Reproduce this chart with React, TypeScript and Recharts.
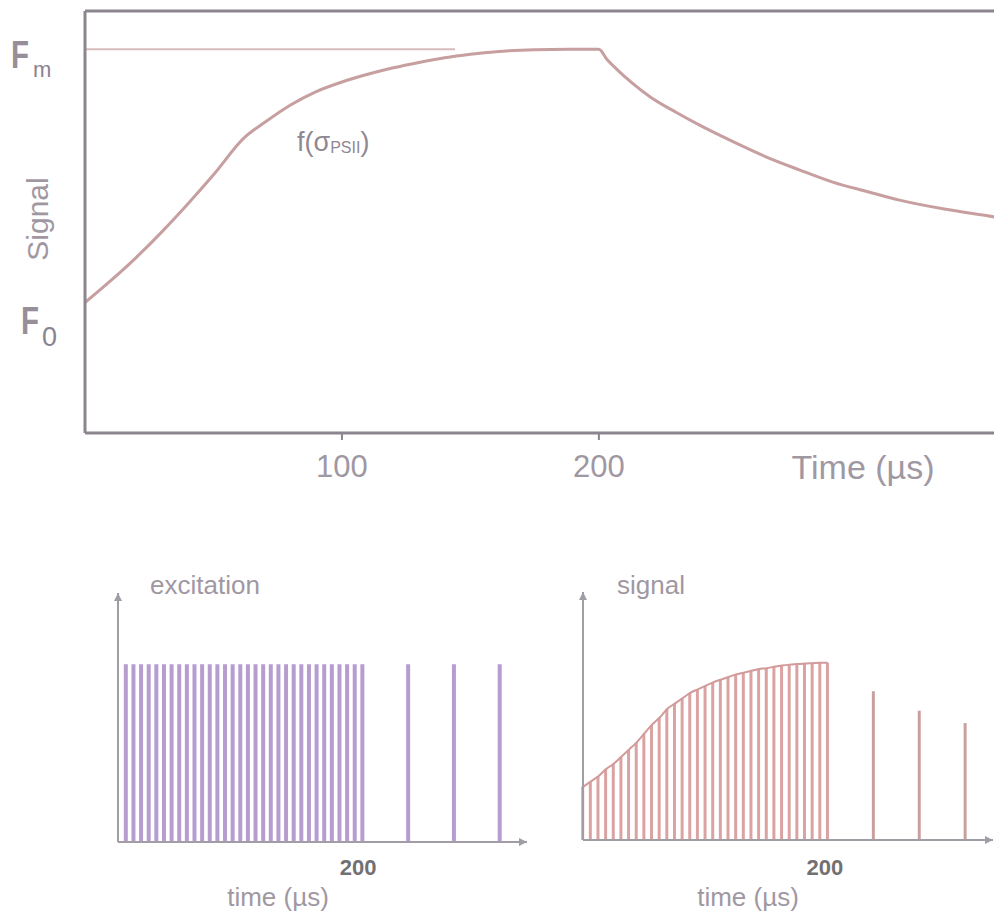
import { LineChart, Line, ComposedChart, Bar, XAxis, YAxis, ReferenceLine } from "recharts";

const FONT = "'Liberation Sans', Arial, sans-serif";

// fluorescence trace, time in µs, signal relative to Fm = 1
const traceTime = [
  0, 10, 20, 30, 40, 50, 62, 70, 80, 90, 100, 110, 120, 130, 140, 150, 160, 175, 188, 200,
  203, 207, 213, 220, 230, 239, 252, 265, 278, 291, 304, 317, 335, 355, 360,
];
const traceSignal = [
  0.34, 0.397, 0.458, 0.525, 0.597, 0.673, 0.77, 0.81, 0.855, 0.89, 0.915, 0.935, 0.952, 0.966, 0.978, 0.987, 0.994, 0.999, 1.0, 1.0,
  0.975, 0.948, 0.912, 0.876, 0.836, 0.803, 0.76, 0.72, 0.686, 0.654, 0.63, 0.607, 0.583, 0.562, 0.556,
];
const F0 = 0.34;
const FM = 1.0;
const fmLineEnd = 144;
const timeTicks = [100, 200];

// flash train (µs) and the three probe flashes after it
const flashTime = [
  6.25, 12.5, 18.75, 25, 31.25, 37.5, 43.75, 50, 56.25, 62.5, 68.75, 75, 81.25, 87.5, 93.75, 100,
  106.25, 112.5, 118.75, 125, 131.25, 137.5, 143.75, 150, 156.25, 162.5, 168.75, 175, 181.25, 187.5, 193.75, 200,
];
const probeTime = [237.5, 275, 312.5];
const excitationPulse = 1;

// measured signal at t = 0 and at each flash
const signalTime = [0, ...flashTime];
const flashSignal = [
  0.3, 0.33, 0.36, 0.4, 0.43, 0.47, 0.51, 0.55, 0.6, 0.65, 0.69, 0.74, 0.77, 0.8, 0.83, 0.85, 0.87,
  0.89, 0.905, 0.92, 0.935, 0.945, 0.955, 0.965, 0.97, 0.978, 0.985, 0.99, 0.993, 0.996, 0.998, 1.0, 1.0,
];
const probeSignal = [0.84, 0.73, 0.66];

const levelLabels: Record<string, { sub: string; fx: number; fy: number; sx: number; sy: number; ss: number }> = {
  [String(F0)]: { sub: "0", fx: 21, fy: 31, sx: 42, sy: 43, ss: 27 },
  [String(FM)]: { sub: "m", fx: 11, fy: 19, sx: 33, sy: 28, ss: 22 },
};

function LevelTick({ y, payload }: any) {
  const l = levelLabels[String(payload.value)];
  if (!l) return null;
  return (
    <g fill="#8b828f" fontFamily={FONT}>
      <text x={l.fx} y={y + l.fy} fontSize={38} fontWeight={700} textLength={18} lengthAdjust="spacingAndGlyphs" opacity={0.9}>F</text>
      <text x={l.sx} y={y + l.sy} fontSize={l.ss}>{l.sub}</text>
    </g>
  );
}

function Arrow({ id, color }: { id: string; color: string }) {
  return (
    <defs>
      <marker id={id} viewBox="0 0 10 10" refX={10} refY={5} markerWidth={9} markerHeight={8}
        markerUnits="userSpaceOnUse" orient="auto-start-reverse">
        <path d="M0,0 L10,5 L0,10 z" fill={color} />
      </marker>
    </defs>
  );
}

export default function App() {
  const traceData = traceTime.map((t, i) => ({ t, signal: traceSignal[i] }));
  const excitationData = [...flashTime, ...probeTime].map((t) => ({ t, pulse: excitationPulse }));
  const signalData = [
    ...signalTime.map((t, i) => ({ t, sig: flashSignal[i] })),
    ...probeTime.map((t, i) => ({ t, probe: probeSignal[i] })),
  ];

  const axisTop = "#8c848f";
  const axisBottom = "#a19da4";
  const label = "#9f98a3";

  return (
    <div style={{ position: "absolute", left: 0, top: 0, width: 994, height: 916, overflow: "hidden", background: "#fff" }}>
      <div style={{ position: "absolute", left: 0, top: 0 }}>
        <LineChart width={1010} height={520} data={traceData} margin={{ top: 11, right: 0, left: 0, bottom: 0 }}>
          <XAxis dataKey="t" type="number" domain={[0, 360]} ticks={timeTicks} height={87}
            axisLine={{ stroke: axisTop, strokeWidth: 3 }} tickLine={{ stroke: axisTop, strokeWidth: 2 }}
            tickSize={7} tickMargin={15} tick={{ fill: label, fontSize: 31, fontFamily: FONT }} />
          <YAxis type="number" domain={[0, 1.1]} ticks={[F0, FM]} width={85} tickLine={false}
            axisLine={{ stroke: axisTop, strokeWidth: 3 }} tick={<LevelTick />} />
          <ReferenceLine y={1.1} stroke={axisTop} strokeWidth={3} />
          <ReferenceLine segment={[{ x: 0, y: FM }, { x: fmLineEnd, y: FM }]} stroke="#d8bcbd" strokeWidth={2} />
          <Line type="monotone" dataKey="signal" stroke="#c79fa0" strokeWidth={3} dot={false} isAnimationActive={false} />
          <text x={37} y={219} transform="rotate(-90 37 219)" textAnchor="middle" dominantBaseline="central"
            fontSize={30} fill={label} fontFamily={FONT}>Signal</text>
          <text x={297} y={151} fontSize={27} fill="#8f8892" fontFamily={FONT}>
            f(σ<tspan fontSize={16} dy={2}>PSII</tspan><tspan dy={-2}>)</tspan>
          </text>
          <text x={863} y={479} textAnchor="middle" fontSize={34} fill={label} fontFamily={FONT}>Time (µs)</text>
        </LineChart>
      </div>

      <div style={{ position: "absolute", left: 0, top: 560 }}>
        <ComposedChart width={560} height={356} data={excitationData} margin={{ top: 33, right: 33, left: 0, bottom: 0 }}>
          <Arrow id="arrowEx" color={axisBottom} />
          <XAxis dataKey="t" type="number" domain={[0, 335]} ticks={[200]} height={74} tickLine={false} tickSize={0}
            tickMargin={17} axisLine={{ stroke: axisBottom, strokeWidth: 2, markerEnd: "url(#arrowEx)" }}
            tick={{ fill: "#727072", fontSize: 22, fontWeight: 700, fontFamily: FONT, dx: -4 }} />
          <YAxis type="number" domain={[0, 1.4]} width={118} tick={false} tickLine={false}
            axisLine={{ stroke: axisBottom, strokeWidth: 2, markerStart: "url(#arrowEx)" }} />
          <Bar dataKey="pulse" barSize={4} fill="#b79dcf" isAnimationActive={false} />
          <text x={205} y={25} textAnchor="middle" dominantBaseline="central" fontSize={26} fill={label} fontFamily={FONT}>excitation</text>
          <text x={278} y={337} textAnchor="middle" dominantBaseline="central" fontSize={26} fill={label} fontFamily={FONT}>time (µs)</text>
        </ComposedChart>
      </div>

      <div style={{ position: "absolute", left: 465, top: 560 }}>
        <ComposedChart width={529} height={356} data={signalData} margin={{ top: 32, right: 1, left: 0, bottom: 0 }}>
          <Arrow id="arrowSig" color={axisBottom} />
          <XAxis dataKey="t" type="number" domain={[0, 335]} ticks={[200]} height={76} tickLine={false} tickSize={0}
            tickMargin={19} axisLine={{ stroke: axisBottom, strokeWidth: 2, markerEnd: "url(#arrowSig)" }}
            tick={{ fill: "#727072", fontSize: 22, fontWeight: 700, fontFamily: FONT, dx: -3 }} />
          <YAxis type="number" domain={[0, 1.4]} width={118} tick={false} tickLine={false}
            axisLine={{ stroke: axisBottom, strokeWidth: 2, markerStart: "url(#arrowSig)" }} />
          <Bar dataKey="sig" stackId="s" barSize={3} fill="#dba2a2" isAnimationActive={false} />
          <Bar dataKey="probe" stackId="s" barSize={3} fill="#c9a0a0" isAnimationActive={false} />
          <Line type="monotone" dataKey="sig" stroke="#d29a9a" strokeWidth={2} dot={false} isAnimationActive={false} />
          <text x={186} y={25} textAnchor="middle" dominantBaseline="central" fontSize={26} fill={label} fontFamily={FONT}>signal</text>
          <text x={283} y={337} textAnchor="middle" dominantBaseline="central" fontSize={26} fill={label} fontFamily={FONT}>time (µs)</text>
        </ComposedChart>
      </div>
    </div>
  );
}
